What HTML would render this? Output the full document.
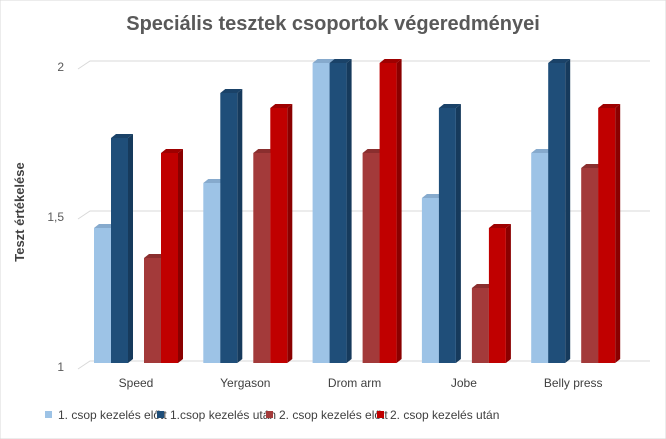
<!DOCTYPE html>
<html><head><meta charset="utf-8"><style>
body{margin:0;background:#fff;}
svg{display:block;font-family:"Liberation Sans",Calibri,sans-serif;}
</style></head><body>
<svg id="chart" width="666" height="439" viewBox="0 0 666 439">
<rect x="0" y="0" width="666" height="439" fill="#fff" stroke="#d9d9d9"/>
<text x="333" y="30" text-anchor="middle" font-size="20" font-weight="bold" fill="#595959">Speciális tesztek csoportok végeredményei</text>
<text transform="translate(24,212) rotate(-90)" text-anchor="middle" font-size="13" font-weight="bold" fill="#404040">Teszt értékelése</text>
<g id="grid"></g><g id="bars"></g><g id="labels"></g><g id="legend"></g>
</svg>
<script>
const categories=["Speed","Yergason","Drom arm","Jobe","Belly press"];
const seriesNames=["1. csop kezelés előtt","1.csop kezelés után","2. csop kezelés előtt","2. csop kezelés után"];
const s1=[1.45,1.6,2,1.55,1.7];
const s2=[1.75,1.9,2,1.85,2];
const s3=[1.35,1.7,1.7,1.25,1.65];
const s4=[1.7,1.85,2,1.45,1.85];
const yTicks=[1,1.5,2];
const yTickLabels=["1","1,5","2"];
const series=[s1,s2,s3,s4];
const colors=[["#9dc3e6","#7fa6c9","#86aacd"],["#1f4e79","#163a5c","#1a4268"],["#a33a3a","#7a2a2a","#8a2e2e"],["#c00000","#8a0000","#9e0000"]];
const NS="http://www.w3.org/2000/svg";
const y0=363,scale=300;
function yScale(v){return y0-(v-1)*scale;}
function xGroup(i){return 136+i*109.3;}
const barOffsets=[-42,-25,8,25];
function mk(tag,attrs,parent){const e=document.createElementNS(NS,tag);for(const k in attrs)e.setAttribute(k,attrs[k]);parent.appendChild(e);return e;}
const grid=document.getElementById('grid'),bars=document.getElementById('bars'),labels=document.getElementById('labels'),legend=document.getElementById('legend');
yTicks.forEach((t,i)=>{
 const y=yScale(t);
 const g=mk('path',{d:`M78 ${y+6} L90 ${y-2} L650 ${y-2}`,fill:'none',stroke:'#d9d9d9','stroke-width':1},grid);
 
 
 const tx=mk('text',{x:64,y:y+8,'text-anchor':'end','font-size':12,fill:'#595959'},labels);
 tx.textContent=yTickLabels[i];
 
 
});
const w=17,d=5,r=4;
categories.forEach((c,i)=>{
 series.forEach((s,k)=>{
  const x=xGroup(i)+barOffsets[k],top=yScale(s[i]);
  const g=mk('g',{},bars);
  
  
  mk('polygon',{points:`${x+w},${top} ${x+w+d},${top-r} ${x+w+d},${y0-r} ${x+w},${y0}`,fill:colors[k][1]},g);
  mk('polygon',{points:`${x},${top} ${x+d},${top-r} ${x+w+d},${top-r} ${x+w},${top}`,fill:colors[k][2]},g);
  mk('rect',{x:x,y:top,width:w,height:y0-top,fill:colors[k][0]},g);
 });
 const t=mk('text',{x:xGroup(i),y:387,'text-anchor':'middle','font-size':12,fill:'#404040'},labels);
 t.textContent=c;
 
 
});
const legX=[45,157,266,377];
seriesNames.forEach((n,k)=>{
 const g=mk('g',{},legend);
 
 
 mk('rect',{x:legX[k],y:411,width:7,height:7,fill:colors[k][0]},g);
 const t=mk('text',{x:legX[k]+13,y:419,'font-size':12,fill:'#404040'},g);
 t.textContent=n;
});
</script>
</body></html>
